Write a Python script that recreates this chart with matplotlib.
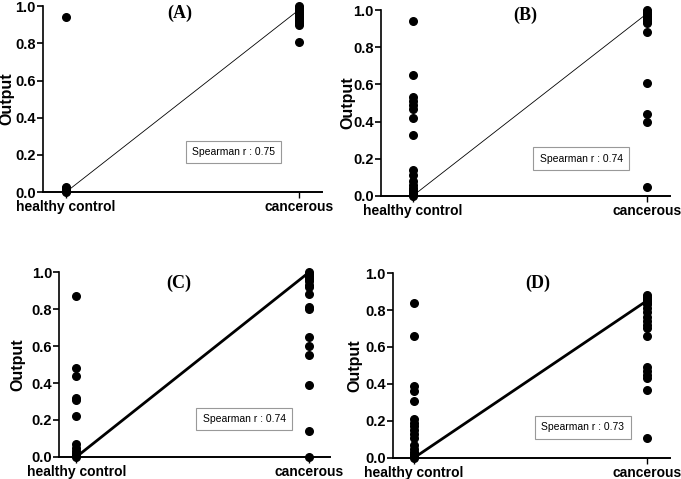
import numpy as np
import matplotlib.pyplot as plt

plt.rcParams['font.family'] = ['Liberation Sans', 'DejaVu Sans']

groups = ['healthy control', 'cancerous']
panel_names = ['(A)', '(B)', '(C)', '(D)']
spearman = [0.75, 0.74, 0.74, 0.73]

# panel A
a_healthy = [0.94, 0.03, 0.02, 0.01, 0.005, 0.0]
a_cancer = [1.0, 0.99, 0.98, 0.97, 0.96, 0.95, 0.94, 0.93, 0.92, 0.91, 0.90, 0.81]
# panel B
b_healthy = [0.94, 0.65, 0.53, 0.51, 0.49, 0.47, 0.42, 0.33, 0.14, 0.11, 0.08,
             0.06, 0.04, 0.03, 0.02, 0.01, 0.0]
b_cancer = [1.0, 0.99, 0.98, 0.97, 0.96, 0.95, 0.94, 0.93, 0.88, 0.61, 0.44, 0.40, 0.05]
# panel C
c_healthy = [0.87, 0.48, 0.44, 0.32, 0.31, 0.22, 0.07, 0.05, 0.03, 0.02, 0.01, 0.0]
c_cancer = [1.0, 0.99, 0.98, 0.97, 0.96, 0.95, 0.93, 0.92, 0.88, 0.81, 0.80, 0.65,
            0.60, 0.55, 0.39, 0.14, 0.0]
# panel D
d_healthy = [0.84, 0.66, 0.39, 0.36, 0.31, 0.21, 0.19, 0.17, 0.15, 0.13, 0.11,
             0.07, 0.05, 0.03, 0.02, 0.01, 0.0]
d_cancer = [0.88, 0.87, 0.86, 0.85, 0.84, 0.83, 0.81, 0.79, 0.76, 0.74, 0.72, 0.70,
            0.66, 0.49, 0.47, 0.45, 0.43, 0.37, 0.11]

# fitted line end points (healthy, cancerous)
fit_lines = [[0.0, 0.98], [0.0, 0.98], [0.0, 1.0], [0.0, 0.85]]

healthy = [a_healthy, b_healthy, c_healthy, d_healthy]
cancer = [a_cancer, b_cancer, c_cancer, d_cancer]

# layout
rects = [[0.063, 0.599, 0.410, 0.388],
         [0.559, 0.591, 0.425, 0.388],
         [0.087, 0.046, 0.398, 0.386],
         [0.577, 0.044, 0.407, 0.386]]
xlims = [(-0.099, 1.10), (-0.137, 1.10), (-0.073, 1.09), (-0.09, 1.10)]
line_w = [0.6, 0.6, 2.0, 2.0]
title_pos = [(0.49, 0.96), (0.48, 0.97), (0.44, 0.94), (0.53, 0.945)]
box_pos = [(0.72, 0.215), (0.72, 0.20), (0.72, 0.205), (0.725, 0.165)]
ylabel_x = [-0.102, -0.088, -0.125, -0.112]

fig = plt.figure(figsize=(6.81, 4.79), dpi=100)

for i in range(4):
    ax = fig.add_axes(rects[i])
    ax.scatter(np.zeros(len(healthy[i])), healthy[i], s=30, color='black',
               zorder=3, clip_on=False)
    ax.scatter(np.ones(len(cancer[i])), cancer[i], s=30, color='black',
               zorder=3, clip_on=False)
    ax.plot([0, 1], fit_lines[i], color='black', lw=line_w[i], zorder=2)

    ax.set_xlim(xlims[i])
    ax.set_ylim(0, 1.0)
    ax.set_yticks(np.arange(0, 1.01, 0.2))
    ax.set_yticklabels(['%.1f' % v for v in np.arange(0, 1.01, 0.2)],
                       fontsize=10.5, fontweight='bold')
    ax.set_xticks([0, 1])
    ax.set_xticklabels(groups, fontsize=10, fontweight='bold')
    ax.tick_params(axis='x', length=4, width=1, pad=2)
    ax.tick_params(axis='y', length=4, width=1.2, pad=1)
    ax.set_ylabel('Output', fontsize=11.5, fontweight='bold')
    ax.yaxis.set_label_coords(ylabel_x[i], 0.5)

    ax.spines['top'].set_visible(False)
    ax.spines['right'].set_visible(False)
    ax.spines['left'].set_linewidth(1.2)
    ax.spines['bottom'].set_linewidth(1.4)

    ax.text(title_pos[i][0], title_pos[i][1], panel_names[i], ha='center',
            va='center', fontsize=13, fontweight='bold',
            family='Liberation Serif')
    ax.text(box_pos[i][0], box_pos[i][1], 'Spearman r : %.2f' % spearman[i],
            ha='center', va='center', fontsize=7.5,
            bbox=dict(boxstyle='square,pad=0.6', fc='white', ec='#999999', lw=0.8))

plt.savefig('out.png', dpi=100)
